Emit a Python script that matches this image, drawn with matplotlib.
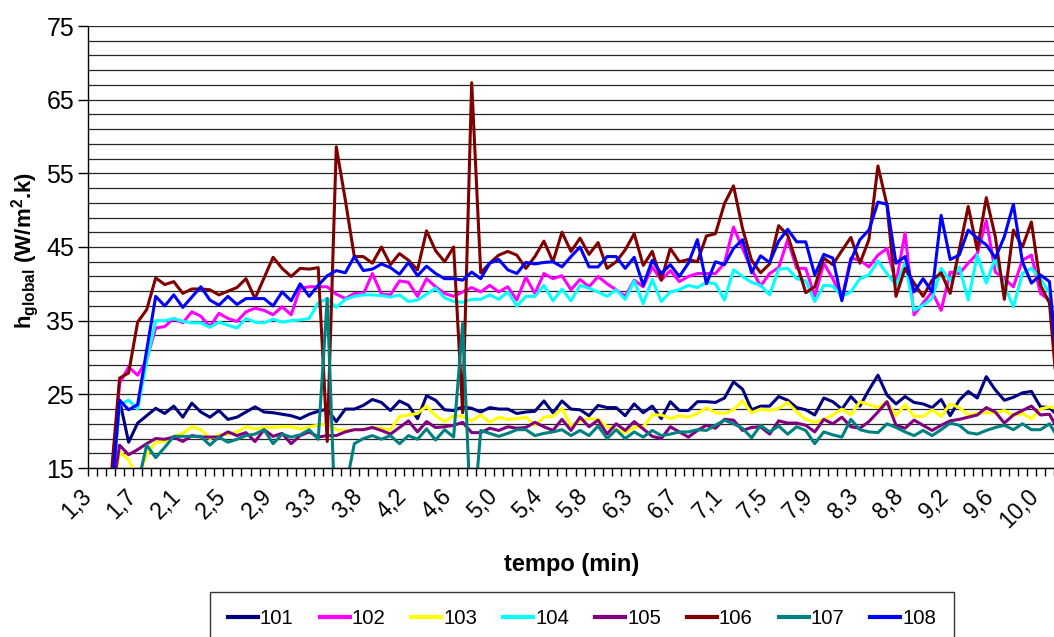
import numpy as np
import matplotlib
matplotlib.use("Agg")
import matplotlib.pyplot as plt
from matplotlib.ticker import FixedLocator
from matplotlib.transforms import ScaledTranslation

plt.rcParams['font.family'] = ['Liberation Sans', 'DejaVu Sans']
plt.rcParams['mathtext.fontset'] = 'custom'
plt.rcParams['mathtext.rm'] = 'Liberation Sans:bold'
plt.rcParams['mathtext.bf'] = 'Liberation Sans:bold'
plt.rcParams['mathtext.it'] = 'Liberation Sans:bold'

# one reading every 5 s, starting at 1,25 min
time_labels = ['1,3', '1,7', '2,1', '2,5', '2,9', '3,3', '3,8', '4,2', '4,6', '5,0', '5,4',
               '5,8', '6,3', '6,7', '7,1', '7,5', '7,9', '8,3', '8,8', '9,2', '9,6', '10,0']

s101 = [10, 10, 9.6, 24.2, 18.5, 21.1, 22.1, 23.1, 22.4, 23.4, 21.9, 23.8, 22.6, 21.9, 22.8, 21.6,
        21.9, 22.6, 23.3, 22.6, 22.5, 22.3, 22.1, 21.7, 22.3, 22.7, 23.0, 21.3, 23.0, 23.0, 23.5,
        24.3, 23.9, 22.8, 24.1, 23.5, 21.7, 24.8, 24.2, 22.9, 22.8, 23.3, 23.1, 22.6, 23.2, 23.0,
        23.0, 22.4, 22.6, 22.7, 24.1, 22.5, 24.1, 23.0, 22.9, 22.1, 23.5, 23.2, 23.2, 22.1, 23.7,
        22.5, 23.4, 21.7, 24.0, 22.8, 22.8, 24.0, 24.0, 23.9, 24.5, 26.7, 25.7, 22.9, 23.4, 23.4,
        24.7, 24.2, 23.2, 22.9, 22.2, 24.5, 24.0, 23.0, 24.7, 23.4, 25.6, 27.6, 24.9, 23.7, 24.7,
        23.9, 23.7, 23.2, 24.3, 22.1, 24.2, 25.4, 24.5, 27.4, 25.6, 24.2, 24.6, 25.2, 25.4, 23.3,
        23.2, 22.0]
s102 = [10, 10, 12, 26.5, 28.7, 27.6, 29.7, 34.0, 34.2, 35.3, 34.7, 36.2, 35.6, 34.2, 36.0, 35.3,
        34.9, 36.2, 36.7, 36.4, 35.8, 36.9, 35.8, 39.4, 39.6, 39.6, 39.6, 38.6, 38.0, 38.7, 38.6,
        41.4, 38.6, 38.5, 40.4, 40.2, 38.3, 40.7, 39.6, 38.7, 38.3, 38.9, 39.5, 38.9, 39.8, 38.9,
        39.6, 37.8, 40.9, 38.7, 41.4, 40.7, 41.1, 39.2, 40.6, 39.6, 41.0, 40.0, 39.2, 38.3, 40.5,
        39.6, 42.3, 40.5, 41.8, 40.3, 41.0, 41.4, 41.4, 41.4, 42.8, 47.7, 44.8, 42.0, 39.7, 41.4,
        42.2, 46.0, 42.1, 42.1, 38.3, 42.8, 40.7, 38.0, 43.5, 43.2, 42.3, 43.9, 44.8, 40.1, 46.9,
        35.8, 37.4, 38.9, 36.4, 41.6, 41.4, 42.8, 44.1, 48.6, 41.6, 40.7, 39.6, 43.2, 43.9, 38.7,
        37.8, 28]
s103 = [10, 10, 10, 17.2, 16.1, 13.5, 16.8, 18.5, 18.6, 19.3, 19.7, 20.6, 20.2, 19.0, 19.5, 19.6,
        19.9, 20.6, 20.3, 20.5, 20.5, 20.6, 20.6, 20.3, 20.6, 20.8, 21.0, 20.2, 20.1, 20.2, 20.2,
        20.5, 20.4, 20.2, 22.0, 22.2, 22.4, 23.4, 22.1, 21.3, 22.1, 22.0, 21.4, 22.2, 21.2, 21.9,
        21.6, 21.7, 21.9, 20.8, 21.9, 22.0, 23.1, 20.7, 21.4, 21.7, 21.6, 20.6, 20.2, 19.8, 20.5,
        20.6, 22.2, 22.2, 21.7, 22.1, 21.9, 22.4, 23.2, 22.5, 22.4, 22.9, 24.1, 22.5, 23.0, 22.8,
        23.1, 23.9, 22.6, 21.6, 21.2, 21.6, 22.2, 23.0, 22.2, 24.0, 23.6, 23.2, 24.0, 22.1, 23.6,
        22.0, 22.0, 22.9, 22.0, 23.7, 23.2, 22.2, 22.4, 22.5, 22.5, 22.8, 22.1, 22.4, 21.7, 23.0,
        23.3, 23.0]
s104 = [10, 10, 10, 23.6, 24.2, 23.0, 29.5, 35.0, 35.0, 35.3, 34.9, 34.7, 34.7, 34.1, 34.8, 34.4,
        34.0, 35.3, 34.8, 34.7, 35.2, 34.8, 35.0, 35.1, 35.3, 37.4, 38.0, 36.8, 37.9, 38.3, 38.5,
        38.5, 38.4, 38.2, 38.5, 37.6, 37.8, 38.6, 39.4, 38.1, 37.6, 37.5, 37.9, 37.9, 38.5, 37.9,
        38.9, 37.0, 38.3, 38.3, 39.8, 37.7, 39.3, 37.7, 39.8, 39.4, 38.9, 38.3, 39.2, 37.9, 40.4,
        37.3, 40.6, 37.6, 38.9, 39.2, 39.8, 39.5, 40.2, 40.0, 37.8, 41.9, 41.0, 40.2, 39.8, 38.5,
        42.0, 42.1, 40.7, 40.4, 37.6, 39.8, 39.7, 38.3, 38.9, 40.7, 41.2, 43.1, 41.4, 39.8, 42.8,
        36.4, 37.1, 38.0, 42.1, 40.4, 42.3, 37.8, 43.9, 40.1, 43.5, 39.8, 36.9, 41.4, 42.1, 40.7,
        38.7, 30]
s105 = [10, 10, 10, 18.1, 16.8, 17.5, 18.3, 19.0, 18.9, 19.2, 18.6, 19.4, 19.2, 19.2, 19.2, 19.9,
        19.4, 19.8, 18.6, 20.2, 19.3, 19.7, 18.3, 19.4, 19.9, 19.2, 19.4, 19.4, 19.9, 20.2, 20.2,
        20.5, 20.1, 19.6, 20.5, 21.4, 19.9, 21.3, 20.5, 20.6, 20.8, 21.2, 19.8, 19.8, 20.4, 20.1,
        20.6, 20.4, 20.5, 21.2, 20.6, 20.1, 21.6, 20.1, 21.9, 20.6, 21.5, 19.6, 21.0, 20.1, 21.3,
        20.3, 19.3, 19.0, 20.6, 19.9, 19.2, 20.1, 20.8, 20.4, 21.6, 21.5, 20.1, 20.5, 20.6, 19.6,
        21.4, 21.1, 21.1, 20.8, 19.9, 21.6, 21.0, 21.9, 20.6, 20.4, 21.3, 22.6, 24.0, 20.8, 20.4,
        21.5, 20.8, 20.1, 20.8, 21.4, 21.6, 21.9, 22.2, 23.2, 22.6, 21.1, 22.2, 22.8, 23.4, 22.2,
        22.3, 20]
s106 = [10, 10, 13, 27.2, 27.9, 34.8, 36.5, 40.8, 39.9, 40.3, 38.7, 39.3, 39.3, 39.2, 38.5, 39.0,
        39.5, 40.7, 38.0, 40.8, 43.6, 42.1, 41.0, 42.1, 42.0, 42.2, 18.6, 58.6, 51.4, 43.7, 43.7,
        42.8, 45.0, 42.6, 44.1, 43.2, 41.9, 47.2, 44.5, 43.0, 45.0, 22.5, 67.3, 41.5, 42.8, 43.9,
        44.4, 43.9, 42.1, 43.7, 45.8, 43.0, 47.0, 44.4, 46.2, 44.0, 45.6, 42.1, 43.0, 44.6, 46.8,
        42.5, 44.4, 40.5, 44.8, 43.0, 43.3, 43.0, 46.5, 46.8, 50.9, 53.3, 47.5, 43.2, 41.5, 42.7,
        47.9, 46.6, 42.8, 38.8, 39.6, 43.5, 42.6, 44.5, 46.3, 42.8, 46.0, 56.0, 50.7, 38.3, 42.1,
        40.1, 38.3, 40.5, 41.5, 38.7, 44.6, 50.5, 44.6, 51.7, 46.4, 37.9, 47.3, 45.0, 48.4, 39.8,
        37.4, 23]
s107 = [10, 10, 10, 10, 10, 12.7, 18.1, 16.4, 17.8, 19.3, 19.3, 19.3, 19.3, 18.1, 19.2, 18.5,
        18.9, 19.4, 19.6, 20.2, 18.3, 19.6, 19.2, 19.5, 20.2, 18.9, 38.0, 4, 12, 18.3, 19.0,
        19.4, 18.9, 19.4, 18.3, 19.4, 18.9, 20.3, 18.8, 20.2, 19.2, 34.6, 5, 20.1, 19.7, 19.3,
        19.7, 20.2, 20.2, 19.4, 19.7, 19.9, 20.2, 19.4, 20.1, 19.4, 20.7, 19.0, 20.2, 19.0, 19.9,
        19.2, 20.1, 19.4, 19.6, 19.9, 19.9, 20.2, 20.1, 20.8, 21.5, 21.0, 20.4, 19.1, 20.8, 19.9,
        20.7, 19.6, 20.6, 20.1, 18.3, 19.9, 19.5, 19.2, 21.6, 20.2, 19.9, 19.8, 21.0, 20.5, 19.9,
        19.4, 20.1, 19.4, 20.2, 21.1, 20.8, 19.8, 19.6, 20.1, 20.5, 20.8, 20.2, 21.0, 20.2, 20.2,
        21.0, 19]
s108 = [10, 10, 10, 24.2, 22.9, 23.6, 31.0, 38.3, 37.0, 38.5, 36.8, 38.2, 39.6, 37.8, 37.1, 38.3,
        37.2, 38.0, 38.0, 38.0, 37.0, 38.9, 37.7, 40.0, 38.3, 39.8, 41.1, 41.8, 41.5, 43.7, 41.8,
        42.0, 42.7, 42.2, 41.3, 42.9, 41.1, 42.4, 41.4, 40.7, 40.7, 40.5, 41.6, 40.7, 42.8, 43.3,
        41.9, 41.4, 42.9, 42.7, 42.9, 43.0, 42.3, 43.7, 45.0, 42.3, 42.3, 43.7, 43.7, 42.1, 43.6,
        39.8, 43.2, 41.4, 42.6, 41.0, 42.8, 46.0, 40.0, 43.0, 42.6, 44.8, 46.0, 41.5, 43.8, 42.9,
        45.8, 47.4, 45.7, 45.7, 41.2, 44.0, 43.5, 37.7, 43.2, 46.0, 47.3, 51.1, 50.8, 42.8, 43.7,
        38.9, 40.7, 38.9, 49.3, 43.3, 43.9, 47.3, 46.2, 45.3, 43.5, 46.4, 50.8, 43.0, 40.1, 41.2,
        40.3, 27]

names = ['101', '102', '103', '104', '105', '106', '107', '108']
series = [s101, s102, s103, s104, s105, s106, s107, s108]
colors = ['#000080', '#FF00FF', '#FFFF00', '#00FFFF', '#800080', '#800000', '#008080', '#0000FF']

fig = plt.figure(figsize=(10.54, 6.37), dpi=100)
ax = fig.add_axes([88 / 1054, 169 / 637, 966 / 1054, 442 / 637])

x = np.arange(len(s101))
for name, vals, col in zip(names, series, colors):
    ax.plot(x, vals, color=col, lw=2.2, label=name)

ax.set_ylim(15, 75)
ax.set_xlim(-0.5, 106.25)

ax.set_yticks(np.arange(15, 76, 10))
ax.yaxis.set_minor_locator(FixedLocator(np.arange(15, 76, 2)))
ax.grid(axis='y', which='both', color='#262626', lw=0.9)
ax.set_axisbelow(True)
ax.tick_params(axis='y', which='major', length=7, width=1, labelsize=18, pad=3)
ax.tick_params(axis='y', which='minor', length=0)

ax.set_xticks(np.arange(-0.5, 107, 1))
ax.set_xticks(np.arange(0, 5 * len(time_labels), 5), time_labels, minor=True)
ax.tick_params(axis='x', which='major', length=6, width=1, labelbottom=False)
ax.tick_params(axis='x', which='minor', length=0, labelsize=16.5, pad=18)
for lab in ax.get_xticklabels(minor=True):
    lab.set_rotation(45)
    lab.set_ha('right')
    lab.set_va('center')
    lab.set_rotation_mode('anchor')
    lab.set_transform(lab.get_transform() + ScaledTranslation(-0.05, 0, fig.dpi_scale_trans))

for side in ['top', 'right']:
    ax.spines[side].set_visible(False)
for side in ['left', 'bottom']:
    ax.spines[side].set_linewidth(1)
    ax.spines[side].set_color('black')

fig.text(572 / 1054, 1 - 565 / 637, 'tempo (min)', fontsize=17, fontweight='bold',
         ha='center', va='center')
fig.text(25 / 1054, 1 - 250 / 637, r'h$_{\mathbf{global}}$ (W/m$^{\mathbf{2}}$.k)', fontsize=16,
         fontweight='bold', rotation=90, ha='center', va='center')

leg = fig.legend(loc='upper center', bbox_to_anchor=(582 / 1054, 1 - 592 / 637), ncol=8,
                 fontsize=14.7, frameon=True, fancybox=False, handlelength=1.47,
                 handletextpad=0.1, columnspacing=1.27, borderpad=0.85, borderaxespad=0)
leg.get_frame().set_edgecolor('black')
leg.get_frame().set_linewidth(1)
for h in leg.get_lines():
    h.set_linewidth(3)

fig.savefig('out.png', dpi=100)
